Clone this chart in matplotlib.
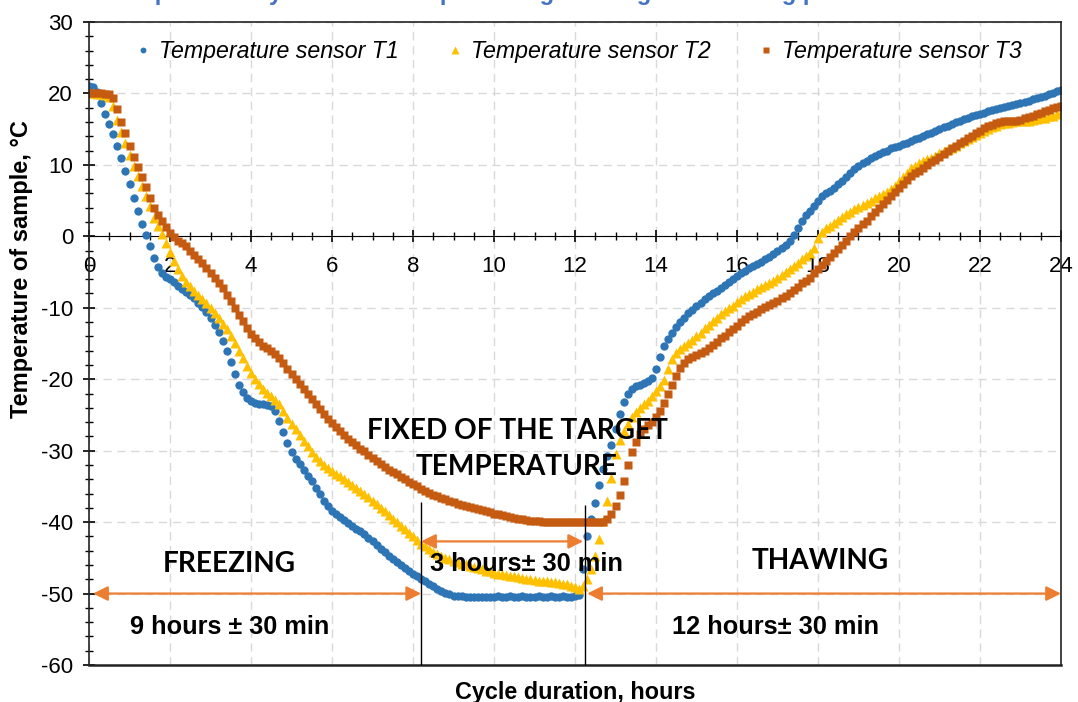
import numpy as np
import matplotlib
matplotlib.use("Agg")
import matplotlib.pyplot as plt
from matplotlib.ticker import MultipleLocator

plt.rcParams['font.family'] = ['Liberation Sans', 'DejaVu Sans']
plt.rcParams['axes.unicode_minus'] = False

# time axis, one reading every 0.1 h (0 .. 24 h)
hours = np.linspace(0, 24, 241)

t1 = [21.0, 20.9, 20.2, 18.6, 17.1, 15.7, 14.3, 12.6, 11.0, 9.2,
      7.3, 5.4, 3.6, 1.7, 0.2, -1.4, -3.0, -4.3, -5.2, -5.7,
      -6.0, -6.4, -6.9, -7.4, -7.8, -8.2, -8.7, -9.3, -9.9, -10.6,
      -11.4, -12.4, -13.4, -14.6, -16.0, -17.6, -19.3, -20.8, -21.8, -22.6,
      -23.1, -23.3, -23.4, -23.5, -23.6, -23.7, -24.4, -25.8, -27.4, -28.9,
      -30.2, -31.1, -31.9, -32.7, -33.5, -34.3, -35.2, -36.1, -37.0, -37.8,
      -38.5, -38.9, -39.3, -39.7, -40.1, -40.5, -40.9, -41.3, -41.7, -42.2,
      -42.7, -43.2, -43.7, -44.2, -44.7, -45.2, -45.6, -46.0, -46.4, -46.8,
      -47.2, -47.6, -47.9, -48.2, -48.6, -48.9, -49.3, -49.6, -49.9, -50.1,
      -50.3, -50.4, -50.4, -50.5, -50.5, -50.5, -50.5, -50.5, -50.5, -50.5,
      -50.5, -50.4, -50.5, -50.5, -50.4, -50.5, -50.5, -50.4, -50.5, -50.5,
      -50.5, -50.4, -50.5, -50.5, -50.4, -50.5, -50.5, -50.4, -50.5, -50.5,
      -50.4, -50.2, -46.5, -42.0, -39.5, -37.3, -34.8, -32.6, -30.8, -29.2,
      -26.9, -24.8, -23.2, -22.0, -21.3, -21.0, -20.8, -20.6, -20.3, -19.8,
      -18.6, -16.9, -15.4, -14.4, -13.5, -12.7, -12.0, -11.4, -10.8, -10.3,
      -9.8, -9.3, -8.8, -8.4, -8.0, -7.6, -7.2, -6.8, -6.4, -6.0,
      -5.6, -5.2, -4.9, -4.5, -4.2, -3.9, -3.6, -3.2, -2.9, -2.5,
      -2.1, -1.7, -1.2, -0.6, 0.2, 1.2, 2.2, 3.0, 3.6, 4.2,
      4.9, 5.6, 6.0, 6.4, 6.8, 7.3, 7.8, 8.3, 8.8, 9.4,
      9.9, 10.3, 10.6, 10.9, 11.2, 11.5, 11.8, 12.0, 12.3, 12.5,
      12.7, 12.9, 13.1, 13.3, 13.6, 13.8, 14.0, 14.3, 14.5, 14.8,
      15.0, 15.3, 15.5, 15.7, 16.0, 16.2, 16.4, 16.6, 16.8, 17.0,
      17.1, 17.3, 17.5, 17.7, 17.8, 18.0, 18.1, 18.3, 18.4, 18.5,
      18.7, 18.8, 19.0, 19.2, 19.4, 19.5, 19.7, 19.9, 20.1, 20.3,
      20.5]

t2 = [20.0, 20.0, 19.9, 19.9, 19.8, 19.5, 18.3, 16.3, 14.6, 13.0,
      11.4, 9.9, 8.5, 7.1, 5.7, 4.2, 2.6, 1.4, 0.3, -0.9,
      -2.2, -3.4, -4.6, -5.6, -6.4, -7.0, -7.6, -8.2, -8.8, -9.4,
      -10.1, -10.8, -11.5, -12.3, -13.0, -13.9, -14.9, -16.0, -17.1, -18.2,
      -19.2, -20.0, -20.7, -21.4, -21.9, -22.4, -22.9, -23.5, -24.5, -25.4,
      -26.2, -27.0, -27.8, -28.6, -29.4, -30.2, -30.9, -31.5, -32.0, -32.4,
      -32.8, -33.2, -33.6, -34.0, -34.4, -34.8, -35.2, -35.6, -36.0, -36.5,
      -37.0, -37.5, -38.0, -38.5, -39.0, -39.5, -40.0, -40.5, -41.0, -41.5,
      -42.0, -42.5, -43.0, -43.4, -43.8, -44.2, -44.5, -44.8, -45.0, -45.2,
      -45.4, -45.6, -45.8, -45.9, -46.1, -46.3, -46.4, -46.6, -46.8, -46.9,
      -47.1, -47.2, -47.3, -47.4, -47.5, -47.6, -47.7, -47.8, -47.9, -48.0,
      -48.1, -48.2, -48.2, -48.3, -48.4, -48.4, -48.5, -48.6, -48.7, -48.9,
      -49.1, -49.3, -49.0, -48.0, -46.5, -44.8, -42.3, -39.8, -37.0, -33.8,
      -30.5, -28.5, -27.2, -26.2, -25.3, -24.6, -24.0, -23.5, -23.0, -22.4,
      -21.7, -20.9, -20.1, -18.6, -17.2, -16.3, -15.8, -15.4, -15.0, -14.5,
      -14.0, -13.5, -12.9, -12.4, -11.9, -11.4, -10.9, -10.5, -10.1, -9.7,
      -9.2, -8.8, -8.4, -8.1, -7.8, -7.4, -7.1, -6.8, -6.5, -6.2,
      -5.8, -5.4, -5.0, -4.6, -4.1, -3.7, -3.2, -2.8, -2.3, -1.6,
      -0.2, 0.6, 1.1, 1.5, 1.9, 2.3, 2.7, 3.1, 3.4, 3.8,
      4.1, 4.4, 4.7, 5.0, 5.3, 5.6, 5.9, 6.2, 6.6, 7.1,
      7.7, 8.3, 8.9, 9.5, 9.9, 10.2, 10.5, 10.8, 11.0, 11.3,
      11.6, 11.9, 12.2, 12.4, 12.7, 13.0, 13.3, 13.6, 13.9, 14.2,
      14.5, 14.8, 15.0, 15.3, 15.5, 15.7, 15.8, 15.9, 16.0, 16.1,
      16.1, 16.2, 16.2, 16.3, 16.4, 16.5, 16.6, 16.8, 16.9, 17.1,
      17.2]

t3 = [20.0, 20.0, 20.0, 20.0, 19.9, 19.9, 19.4, 17.8, 16.0, 14.4,
      12.7, 11.1, 9.7, 8.3, 6.9, 5.4, 4.0, 3.0, 2.2, 1.3,
      0.5, -0.1, -0.6, -1.0, -1.4, -2.0, -2.6, -3.2, -3.8, -4.5,
      -5.1, -5.8, -6.5, -7.3, -8.2, -9.1, -10.1, -11.0, -11.9, -12.8,
      -13.7, -14.3, -14.8, -15.3, -15.7, -16.1, -16.5, -17.1, -17.8, -18.6,
      -19.3, -20.0, -20.7, -21.4, -22.1, -22.8, -23.5, -24.2, -24.9, -25.5,
      -26.1, -26.7, -27.3, -27.8, -28.3, -28.8, -29.2, -29.7, -30.1, -30.6,
      -31.0, -31.5, -31.9, -32.3, -32.7, -33.0, -33.3, -33.7, -34.0, -34.4,
      -34.7, -35.0, -35.3, -35.6, -35.9, -36.2, -36.4, -36.6, -36.8, -37.0,
      -37.2, -37.4, -37.6, -37.7, -37.9, -38.0, -38.2, -38.3, -38.5, -38.6,
      -38.8, -38.9, -39.0, -39.1, -39.3, -39.4, -39.5, -39.6, -39.7, -39.8,
      -39.9, -39.9, -40.0, -40.0, -40.0, -40.0, -40.0, -40.0, -40.0, -40.0,
      -40.0, -40.0, -40.0, -40.0, -40.0, -40.0, -40.0, -40.0, -39.6, -38.9,
      -37.8, -36.2, -34.2, -32.0, -30.2, -28.8, -27.6, -26.9, -26.4, -26.0,
      -25.3, -24.4, -23.3, -22.0, -20.8, -19.6, -18.5, -17.7, -17.2, -16.9,
      -16.6, -16.3, -16.0, -15.6, -15.2, -14.8, -14.3, -13.9, -13.4, -13.0,
      -12.5, -12.0, -11.6, -11.2, -10.9, -10.6, -10.2, -9.9, -9.6, -9.3,
      -9.0, -8.6, -8.3, -7.9, -7.5, -7.1, -6.6, -6.2, -5.8, -5.2,
      -4.6, -4.0, -3.4, -2.9, -2.4, -1.8, -1.2, -0.6, 0.0, 0.6,
      1.1, 1.7, 2.2, 2.8, 3.4, 3.9, 4.5, 5.1, 5.7, 6.2,
      6.8, 7.3, 7.9, 8.4, 8.8, 9.2, 9.6, 10.0, 10.4, 10.7,
      11.1, 11.5, 11.9, 12.3, 12.6, 13.0, 13.4, 13.8, 14.1, 14.5,
      14.8, 15.1, 15.4, 15.6, 15.8, 16.0, 16.1, 16.1, 16.2, 16.2,
      16.3, 16.5, 16.7, 16.9, 17.1, 17.3, 17.5, 17.7, 17.9, 18.1,
      18.3]

labels = ['Temperature sensor T1', 'Temperature sensor T2', 'Temperature sensor T3']
colors = ['#2E75B6', '#FFC000', '#C55A11']
arrow_col = '#ED7D31'

fig = plt.figure(figsize=(10.78, 7.02), dpi=100)
ax = fig.add_axes([0.0826, 0.0527, 0.9016, 0.916])

ax.plot(hours, t1, 'o', ms=6, color=colors[0], mec='none', label=labels[0])
ax.plot(hours, t2, '^', ms=7.8, color=colors[1], mec='none', label=labels[1])
ax.plot(hours, t3, 's', ms=6, color=colors[2], mec='none', label=labels[2])

ax.set_xlim(0, 24)
ax.set_ylim(-60, 30)
ax.xaxis.set_major_locator(MultipleLocator(2))
ax.xaxis.set_minor_locator(MultipleLocator(0.5))
ax.yaxis.set_major_locator(MultipleLocator(10))
ax.yaxis.set_minor_locator(MultipleLocator(2))
ax.grid(True, which='major', color='#d9d9d9', ls=(0, (6, 4)), lw=1)
ax.set_axisbelow(True)

# x axis runs through zero, frame kept around the plot
ax.spines['bottom'].set_position(('data', 0))
ax.spines['bottom'].set_zorder(1)
for s in ['left', 'right', 'top']:
    ax.spines[s].set_color('#222222')
    ax.spines[s].set_linewidth(1.2)
ax.axhline(-60, color='#222222', lw=1.8, clip_on=False)
ax.tick_params(axis='x', which='major', direction='inout', length=9, width=1.2, pad=10, labelsize=16)
ax.tick_params(axis='x', which='minor', direction='inout', length=6, width=1)
ax.tick_params(axis='y', which='major', direction='inout', length=9, width=1.2, pad=7, labelsize=16)
ax.tick_params(axis='y', which='minor', direction='inout', length=6, width=1)

ax.set_ylabel('Temperature of sample, °C', fontsize=17, fontweight='bold')
ax.yaxis.set_label_coords(-0.058, 0.615)
ax.text(0.5, -0.042, 'Cycle duration, hours', transform=ax.transAxes, ha='center', va='center',
        fontsize=16.8, fontweight='bold')

leg = ax.legend(loc='center', bbox_to_anchor=(0.503, 0.954), ncol=3, frameon=False,
                prop={'style': 'italic', 'size': 16.7}, handletextpad=0.3, columnspacing=2.0,
                handlelength=0.8, markerscale=0.7)

# stage boundaries
ax.vlines([8.2, 12.25], [-37.2, -37.6], -60, colors='black', lw=1)

arw = dict(arrowstyle='<|-|>', color=arrow_col, lw=1.6, mutation_scale=22, shrinkA=0, shrinkB=0)
ax.annotate('', xy=(0.1, -50), xytext=(8.2, -50), arrowprops=arw)
ax.annotate('', xy=(8.2, -42.7), xytext=(12.2, -42.7), arrowprops=arw)
ax.annotate('', xy=(12.3, -50), xytext=(24, -50), arrowprops=arw)

cal = ['Lato', 'DejaVu Sans']
ax.text(3.46, -45.8, 'FREEZING', family=cal, fontweight='bold', fontsize=20.2, ha='center', va='center')
ax.text(3.48, -54.7, '9 hours ± 30 min', fontweight='bold', fontsize=18.2, ha='center', va='center')
ax.text(10.57, -29.8, 'FIXED OF THE TARGET\nTEMPERATURE', family=cal, fontweight='bold', fontsize=20.2,
        ha='center', va='center', linespacing=1.5)
ax.text(10.81, -45.8, '3 hours± 30 min', fontweight='bold', fontsize=18.3, ha='center', va='center')
ax.text(18.05, -45.4, 'THAWING', family=cal, fontweight='bold', fontsize=20.2, ha='center', va='center')
ax.text(16.95, -54.7, '12 hours± 30 min', fontweight='bold', fontsize=18.3, ha='center', va='center')

# title of the figure, cut off at the top edge
fig.text(0.1, 1.0, 'Temperature cycle of the sample during freezing and thawing process', color='#4472C4',
         fontsize=17, fontweight='bold', va='baseline')

fig.savefig('out.png', dpi=100)
